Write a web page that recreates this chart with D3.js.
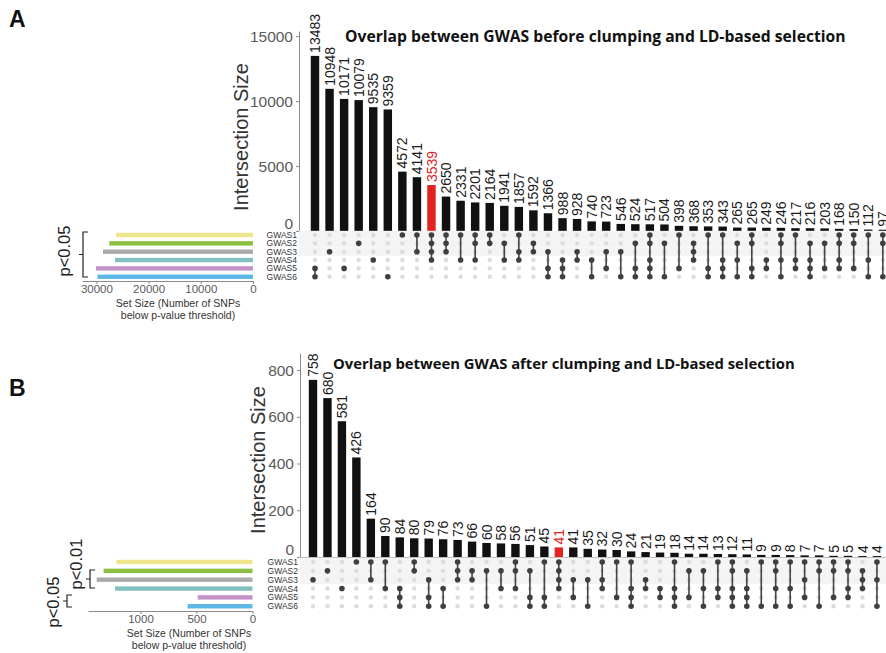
<!DOCTYPE html>
<meta charset="utf-8">
<title>UpSet plots - GWAS overlap before / after clumping</title>
<style>
body { margin: 0; background: #fff; }
svg text { font-family: "Liberation Sans", Arial, sans-serif; }
.title { font-family: "Open Sans", sans-serif; font-weight: 700; fill: #111; }
.panel-letter { font-weight: 700; fill: #111; }
.axis path, .axis line { stroke: #8c8c8c; }
</style>
<body>
<div id="chart"></div>
<script src="https://cdnjs.cloudflare.com/ajax/libs/d3/7.8.5/d3.min.js"></script>
<script>

// sets (rows of the matrix)
const setNames = ["GWAS1", "GWAS2", "GWAS3", "GWAS4", "GWAS5", "GWAS6"];
const setColors = ["#efe58a", "#8cc043", "#aaaaaa", "#82c1c2", "#c690c9", "#5db7e7"];

// panel A : before clumping
const titleA = "Overlap between GWAS before clumping and LD-based selection";
const sizesA = [13483, 10948, 10171, 10079, 9535, 9359, 4572, 4141, 3539, 2650,
                2331, 2201, 2164, 1941, 1857, 1592, 1366, 988, 928, 740,
                723, 546, 524, 517, 504, 398, 368, 353, 343, 265,
                265, 249, 246, 217, 216, 203, 168, 150, 112, 97];
// digits = member sets of each intersection
const combosA = ["56", "3", "5", "2", "4", "6", "1", "13", "1234", "123",
                 "14", "124", "12", "24", "134", "23", "356", "456", "34", "46",
                 "35", "36", "256", "12456", "26", "15", "234", "156", "1456", "246",
                 "1256", "45", "1246", "145", "2456", "25", "1245", "125", "146", "126"];
const setSizesA = [26250, 27530, 28740, 26440, 30080, 29800];
const yTicksA = [0, 5000, 10000, 15000];
const setTicksA = [0, 10000, 20000, 30000];
const highlightA = 8;

// panel B : after clumping
const titleB = "Overlap between GWAS after clumping and LD-based selection";
const sizesB = [758, 680, 581, 426, 164, 90, 84, 80, 79, 76,
                73, 66, 60, 58, 56, 51, 45, 41, 41, 35,
                32, 30, 24, 21, 19, 18, 14, 14, 13, 12,
                11, 9, 9, 8, 7, 7, 5, 5, 4, 4];
const combosB = ["3", "2", "4", "1", "13", "14", "456", "12", "356", "46",
                 "123", "23", "26", "24", "124", "256", "156", "1234", "35", "36",
                 "134", "15", "1456", "34", "45", "1456", "25", "246", "145", "12456",
                 "2456", "16", "1246", "146", "135", "126", "125", "1245", "234", "136"];
const setSizesB = [1214, 1330, 1391, 1228, 489, 579];
const yTicksB = [0, 200, 400, 600, 800];
const setTicksB = [0, 500, 1000];
const highlightB = 17;

const width = 886, height = 653;
const axisFont = "'Liberation Sans', Arial, sans-serif";

const svg = d3.select("#chart").append("svg")
    .attr("width", width)
    .attr("height", height);

// draws one upset panel
function drawPanel(p) {
    const g = svg.append("g");
    const n = p.sizes.length;

    const x = d3.scaleBand()
        .domain(d3.range(n))
        .range([p.x0 - p.step / 2, p.x0 - p.step / 2 + n * p.step])
        .paddingInner(0.42)
        .paddingOuter(0.21);
    const cx = i => x(i) + x.bandwidth() / 2;

    const y = d3.scaleLinear().domain([0, p.yMax]).range([p.base, p.top]);

    // intersection size axis
    const yAxis = g.append("g")
        .attr("class", "axis")
        .attr("transform", "translate(" + p.axisX + ",0)")
        .call(d3.axisLeft(y).tickValues(p.yTicks).tickFormat(d3.format("d"))
            .tickSize(3).tickSizeOuter(0).tickPadding(3));
    yAxis.selectAll("text")
        .style("font-family", axisFont)
        .style("font-size", "15.5px")
        .style("fill", "#5a5a5a");
    // the zero label sits a little higher, just above the matrix
    yAxis.selectAll(".tick").filter(d => d === 0).select("text").attr("y", -7);

    g.append("text")
        .attr("transform", "translate(" + p.yLabelX + "," + p.yLabelY + ") rotate(-90)")
        .attr("text-anchor", "middle")
        .style("font-size", "20px")
        .style("fill", "#333")
        .text("Intersection Size");

    // bars
    g.selectAll(".bar").data(p.sizes).enter().append("rect")
        .attr("x", (d, i) => x(i))
        .attr("y", d => y(d))
        .attr("width", x.bandwidth())
        .attr("height", d => p.base - y(d))
        .attr("fill", (d, i) => i === p.highlight ? "#e2231f" : "#111");

    g.selectAll(".barlabel").data(p.sizes).enter().append("text")
        .attr("transform", (d, i) => "translate(" + cx(i) + "," + (y(d) - 3) + ") rotate(-90)")
        .attr("dy", "0.36em")
        .style("font-size", "14px")
        .style("fill", (d, i) => i === p.highlight ? "#e2231f" : "#1a1a1a")
        .text(d => d);

    // matrix area
    const rowY = j => p.matTop + j * p.rowStep;
    g.append("line")
        .attr("x1", p.axisX).attr("x2", width)
        .attr("y1", p.base + 0.5).attr("y2", p.base + 0.5)
        .attr("stroke", "#9a9a9a");

    g.selectAll(".stripe").data(setNames).enter().append("rect")
        .filter((d, j) => j % 2 === 1)
        .attr("x", p.axisX)
        .attr("y", (d, j) => rowY(j) - p.rowStep / 2)
        .attr("width", width - p.axisX)
        .attr("height", p.rowStep)
        .attr("fill", "#f4f4f4");

    g.selectAll(".setname").data(setNames).enter().append("text")
        .attr("x", p.axisX - 2)
        .attr("y", (d, j) => rowY(j))
        .attr("dy", "0.35em")
        .attr("text-anchor", "end")
        .style("font-size", "8.5px")
        .style("fill", "#333")
        .text(d => d);

    p.combos.forEach((c, i) => {
        const rows = c.split("").map(k => +k - 1);
        g.selectAll(null).data(setNames).enter().append("circle")
            .attr("cx", cx(i))
            .attr("cy", (d, j) => rowY(j))
            .attr("r", 2.2)
            .attr("fill", "#dcdcdc");
        if (rows.length > 1) {
            g.append("line")
                .attr("x1", cx(i)).attr("x2", cx(i))
                .attr("y1", rowY(d3.min(rows))).attr("y2", rowY(d3.max(rows)))
                .attr("stroke", "#444").attr("stroke-width", 1.6);
        }
        g.selectAll(null).data(rows).enter().append("circle")
            .attr("cx", cx(i))
            .attr("cy", j => rowY(j))
            .attr("r", 2.8)
            .attr("fill", "#3f3f3f");
    });

    // set size bars
    const xs = d3.scaleLinear().domain([0, p.setMax]).range([p.setX0, p.setX1]);
    g.selectAll(".setbar").data(p.setSizes).enter().append("rect")
        .attr("x", d => xs(d))
        .attr("y", (d, j) => rowY(j) - 2.2)
        .attr("width", d => p.setX0 - xs(d))
        .attr("height", 4.4)
        .attr("fill", (d, j) => setColors[j]);

    const sAxis = g.append("g")
        .attr("class", "axis")
        .attr("transform", "translate(0," + p.setAxisY + ")")
        .call(d3.axisBottom(xs).tickValues(p.setTicks).tickFormat(d3.format("d"))
            .tickSize(3).tickSizeOuter(0).tickPadding(1));
    sAxis.selectAll("text")
        .style("font-family", axisFont)
        .style("font-size", "11.5px")
        .style("fill", "#5a5a5a");

    const st = g.append("text")
        .attr("x", p.setTitleX)
        .attr("y", p.setAxisY + 25.5)
        .attr("text-anchor", "middle")
        .style("font-size", "10.5px")
        .style("fill", "#333");
    st.append("tspan").attr("x", p.setTitleX).text("Set Size (Number of SNPs");
    st.append("tspan").attr("x", p.setTitleX).attr("dy", 12).text("below p-value threshold)");

    // title, fitted to the width it takes in the figure
    const t = g.append("text")
        .attr("class", "title")
        .attr("x", p.titleX)
        .attr("y", p.titleY)
        .style("font-size", "16px")
        .text(p.title);
    const len = t.node().getComputedTextLength();
    t.style("font-size", (16 * p.titleW / len) + "px");

    g.append("text")
        .attr("class", "panel-letter")
        .attr("x", 9)
        .attr("y", p.letterY)
        .style("font-size", "23px")
        .text(p.letter);

    // significance brackets
    p.brackets.forEach(b => {
        const mid = (b.y0 + b.y1) / 2;
        g.append("path")
            .attr("d", "M" + (b.x + 5) + "," + b.y0 + "H" + b.x + "V" + b.y1 + "H" + (b.x + 5) +
                       "M" + b.x + "," + mid + "H" + (b.x - 4))
            .attr("fill", "none")
            .attr("stroke", "#222")
            .attr("stroke-width", 1.2);
        g.append("text")
            .attr("transform", "translate(" + b.tx + "," + b.ty + ") rotate(-90)")
            .attr("text-anchor", "middle")
            .style("font-size", "16.5px")
            .style("fill", "#222")
            .text(b.label);
    });
}

drawPanel({
    letter: "A", letterY: 27,
    title: titleA, titleX: 345, titleY: 42, titleW: 501,
    sizes: sizesA, combos: combosA, setSizes: setSizesA, highlight: highlightA,
    x0: 315, step: 14.56,
    yMax: 15400, yTicks: yTicksA, base: 231, top: 31, axisX: 299,
    yLabelX: 248, yLabelY: 137,
    matTop: 235, rowStep: 8.35,
    setMax: 32760, setX0: 253, setX1: 82, setTicks: setTicksA, setAxisY: 281, setTitleX: 178,
    brackets: [{x: 83, y0: 232, y1: 277, tx: 70, ty: 251, label: "p<0.05"}]
});

drawPanel({
    letter: "B", letterY: 396,
    title: titleB, titleX: 333, titleY: 369, titleW: 462,
    sizes: sizesB, combos: combosB, setSizes: setSizesB, highlight: highlightB,
    x0: 313, step: 14.46,
    yMax: 873, yTicks: yTicksB, base: 557, top: 353, axisX: 300,
    yLabelX: 265, yLabelY: 460,
    matTop: 562, rowStep: 8.85,
    setMax: 1469, setX0: 252.5, setX1: 88, setTicks: setTicksB, setAxisY: 611, setTitleX: 189,
    brackets: [
        {x: 90, y0: 570, y1: 588, tx: 82, ty: 564, label: "p<0.01"},
        {x: 67, y0: 595, y1: 607, tx: 59, ty: 602, label: "p<0.05"}
    ]
});
</script>
</body>
</html>
